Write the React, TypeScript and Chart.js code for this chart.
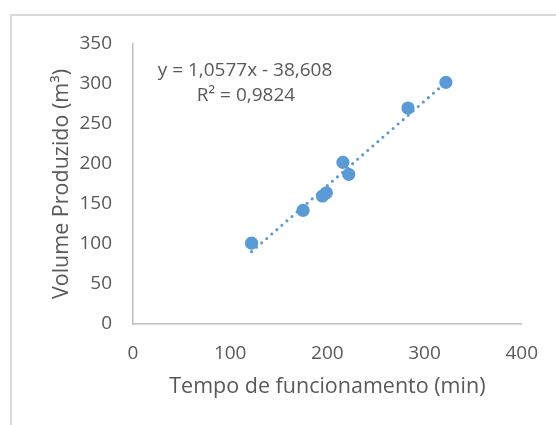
import React, { useEffect, useRef } from "react";
import { Chart, registerables } from "chart.js";

Chart.register(...registerables);

// Operating time (min) and produced volume (m³) for each observation
const tempoMin: number[] = [122, 175, 195, 199, 216, 222, 283, 322];
const volumeM3: number[] = [101, 142, 160, 164, 202, 187, 270, 302];

// Linear trendline coefficients and fit quality
const slope = 1.0577;
const intercept = -38.608;
const rSquared = 0.9824;

const xTicks: number[] = [0, 100, 200, 300, 400];
const yTicks: number[] = [0, 50, 100, 150, 200, 250, 300, 350];

const equationLines: string[] = [
  "y = 1,0577x - 38,608",
  "R² = 0,9824",
];

const BLUE = "#5B9BD5";
const TEXT = "#595959";
const AXIS = "#BFBFBF";
const FONT = "'Open Sans', 'Noto Sans', sans-serif";

const frameAndLabel = {
  id: "frameAndLabel",
  beforeDraw(chart: any) {
    const { ctx } = chart;
    ctx.save();
    ctx.fillStyle = "#ffffff";
    ctx.fillRect(0, 0, chart.width, chart.height);
    ctx.strokeStyle = "#D9D9D9";
    ctx.lineWidth = 2;
    ctx.strokeRect(11, 15, chart.width + 20, chart.height + 20);
    ctx.restore();
  },
  afterDatasetsDraw(chart: any) {
    const { ctx } = chart;
    ctx.save();
    ctx.fillStyle = TEXT;
    ctx.font = `19px ${FONT}`;
    ctx.textAlign = "center";
    ctx.textBaseline = "middle";
    ctx.fillText(equationLines[0], 245, 71);
    ctx.fillText(equationLines[1], 246, 96);
    ctx.restore();
  },
};

export default function App() {
  const canvasRef = useRef<HTMLCanvasElement | null>(null);

  useEffect(() => {
    if (!canvasRef.current) return;
    const points = tempoMin.map((x, i) => ({ x, y: volumeM3[i] }));
    const xMin = Math.min(...tempoMin);
    const xMax = Math.max(...tempoMin);
    const trend = [
      { x: xMin, y: slope * xMin + intercept },
      { x: xMax, y: slope * xMax + intercept },
    ];

    const chart = new Chart(canvasRef.current, {
      type: "scatter",
      data: {
        datasets: [
          {
            type: "line",
            label: `Linear (R² = ${rSquared})`,
            data: trend,
            borderColor: BLUE,
            borderWidth: 3.1,
            borderDash: [0, 6.7],
            borderCapStyle: "round",
            pointRadius: 0,
            fill: false,
          },
          {
            label: "Volume",
            data: points,
            backgroundColor: BLUE,
            borderColor: BLUE,
            borderWidth: 0,
            pointRadius: 6.6,
          },
        ],
      },
      options: {
        responsive: false,
        animation: false,
        devicePixelRatio: 1,
        layout: { padding: { left: 0, top: 44, right: 33, bottom: 0 } },
        plugins: {
          legend: { display: false },
          tooltip: { enabled: false },
        },
        scales: {
          x: {
            type: "linear",
            min: 0,
            max: 400,
            afterFit: (s: any) => {
              s.height = 101;
            },
            afterBuildTicks: (s: any) => {
              s.ticks = xTicks.map((v) => ({ value: v }));
            },
            grid: { display: false, drawTicks: false },
            border: { display: true, color: AXIS, width: 1.5 },
            ticks: {
              color: TEXT,
              font: { family: FONT, size: 19 },
              padding: 18,
            },
            title: {
              display: true,
              text: "Tempo de funcionamento (min)",
              color: TEXT,
              font: { family: FONT, size: 21.5 },
              padding: { top: 0, bottom: 25 },
            },
          },
          y: {
            type: "linear",
            min: 0,
            max: 350,
            afterFit: (s: any) => {
              s.width = 133;
            },
            afterBuildTicks: (s: any) => {
              s.ticks = yTicks.map((v) => ({ value: v }));
            },
            grid: { display: false, drawTicks: false },
            border: { display: true, color: AXIS, width: 1.5 },
            ticks: {
              color: TEXT,
              font: { family: FONT, size: 19 },
              padding: 21,
            },
            title: {
              display: true,
              text: "Volume Produzido (m³)",
              color: TEXT,
              font: { family: FONT, size: 21.5 },
              padding: { top: 49, bottom: 0 },
            },
          },
        },
      },
      plugins: [frameAndLabel],
    });
    return () => chart.destroy();
  }, []);

  return (
    <div
      style={{
        position: "fixed",
        left: 0,
        top: 0,
        width: 556,
        height: 425,
        background: "#ffffff",
      }}
    >
      <canvas ref={canvasRef} width={556} height={425} />
    </div>
  );
}
